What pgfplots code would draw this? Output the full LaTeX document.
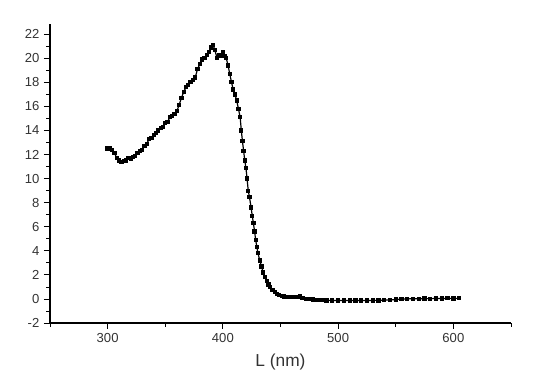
\documentclass[border=0pt]{standalone}
\usepackage{pgfplots}
\pgfplotsset{compat=1.18}
\usepackage{fontspec}
\setmainfont{Liberation Sans}
\definecolor{ticktxt}{HTML}{333333}
\begin{document}
\begin{tikzpicture}
\useasboundingbox (-37.5pt,-44.25pt) rectangle (364.5pt,242.25pt);
\begin{axis}[
  at={(0pt,0pt)}, anchor=south west,
  scale only axis,
  width=345.75pt, height=224.25pt,
  xmin=250, xmax=650, ymin=-2, ymax=22.85,
  axis x line*=bottom, axis y line*=left,
  axis line style={-, line width=0.8pt},
  tick align=outside,
  tick style={black, line width=0.6pt},
  major tick length=4.5pt, minor tick length=2.8pt,
  xtick={300,400,500,600},
  minor xtick={250,350,450,550,650},
  ytick={-2,0,...,22},
  minor ytick={-1,1,...,23},
  /pgf/number format/assume math mode=true,
  ticklabel style={font=\fontsize{9.8}{11}\selectfont, text=ticktxt},
  xlabel={L (nm)},
  xlabel style={font=\fontsize{13}{15}\selectfont, text=ticktxt, yshift=-1pt},
  clip=false,
]
\addplot[black, line width=0.9pt, mark=square*, mark size=1.15pt] coordinates {
(300,12.5)(302,12.5)(304,12.4)(306,12.1)(308,11.7)(310,11.5)(312,11.4)(314,11.45)
(316,11.5)(318,11.7)(320,11.6)(322,11.8)(324,11.9)(326,12.1)(328,12.3)(330,12.4)
(332,12.7)(334,12.9)(336,13.3)(338,13.4)(340,13.6)(342,13.8)(344,14.0)(346,14.2)
(348,14.3)(350,14.6)(352,14.7)(354,15.1)(356,15.2)(358,15.4)(360,15.6)(362,16.1)
(364,16.7)(366,17.2)(368,17.6)(370,17.8)(372,18.0)(374,18.2)(376,18.4)(378,19.1)
(380,19.5)(382,19.9)(384,20.0)(386,20.3)(388,20.5)(390,20.9)(391.5,21.1)(393,20.7)
(395,20.0)(396.5,20.3)(398,20.2)(400,20.5)(402,20.2)(403,20.0)(404.5,19.4)(406,18.7)
(407.5,18.0)(409,17.4)(410.5,17.0)(412,16.5)(413.5,15.8)(415,15.1)(416,14.0)(417,13.1)
(418,12.3)(419,11.5)(420,10.9)(421,10.0)(422,9.0)(423,8.5)(424.5,7.6)(425.5,6.9)
(426.5,6.3)(427.5,5.6)(428.5,4.9)(429.5,4.3)(430.5,3.8)(432,3.2)(433.5,2.7)(435,2.2)
(436.5,1.8)(438,1.5)(439.5,1.2)(441,1.0)(443,0.75)(445,0.55)(447,0.42)(449,0.32)
(451,0.25)(453,0.2)(456,0.16)(459,0.15)(462,0.15)(465,0.18)(467,0.22)(469,0.1)
(472,0.02)(475,-0.02)(478,-0.05)(482,-0.08)(486,-0.1)(490,-0.12)(495,-0.12)(500,-0.13)
(505,-0.13)(510,-0.12)(515,-0.13)(520,-0.12)(525,-0.13)(530,-0.12)(535,-0.12)(540,-0.1)
(545,-0.08)(550,-0.05)(555,-0.02)(560,0.0)(565,0.02)(570,0.0)(575,0.03)(580,0.02)
(585,0.04)(590,0.03)(595,0.05)(600,0.04)(605,0.05)
};
\end{axis}
\end{tikzpicture}
\end{document}
